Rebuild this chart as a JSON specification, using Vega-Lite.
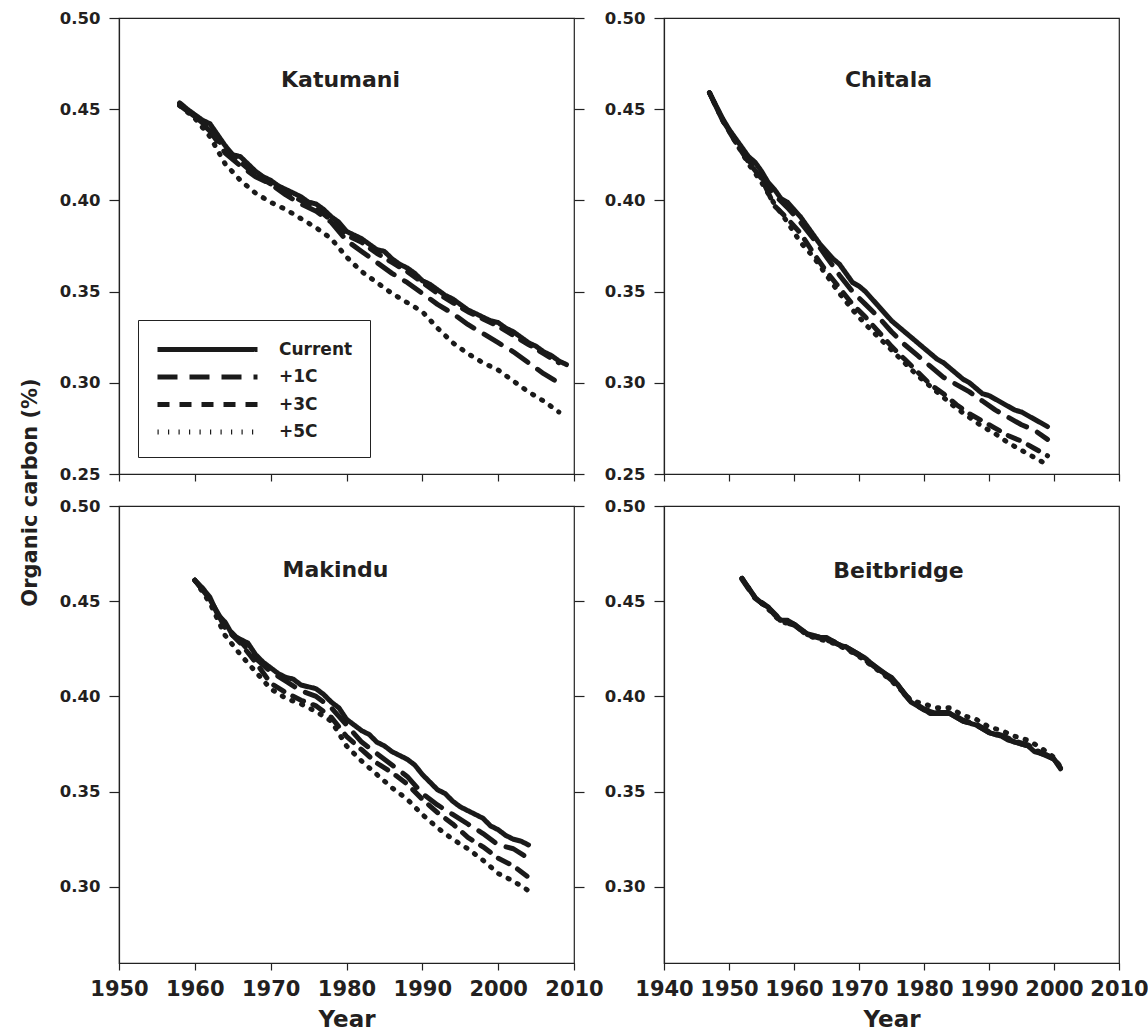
{
  "$schema": "https://vega.github.io/schema/vega-lite/v6.json",
  "padding": {"left": 18, "top": 9, "right": 5, "bottom": 5},
  "columns": 2,
  "spacing": {"row": 32, "column": 90},
  "bounds": "flush",
  "resolve": {"legend": {"strokeDash": "independent"}},
  "datasets": {
    "katumani": [
      {"scenario":"Current","year":1958,"oc":0.4535},{"scenario":"Current","year":1959,"oc":0.450},{"scenario":"Current","year":1960,"oc":0.447},{"scenario":"Current","year":1961,"oc":0.444},{"scenario":"Current","year":1962,"oc":0.442},{"scenario":"Current","year":1963,"oc":0.436},{"scenario":"Current","year":1964,"oc":0.430},{"scenario":"Current","year":1965,"oc":0.425},{"scenario":"Current","year":1966,"oc":0.424},{"scenario":"Current","year":1967,"oc":0.420},{"scenario":"Current","year":1968,"oc":0.416},{"scenario":"Current","year":1969,"oc":0.413},{"scenario":"Current","year":1970,"oc":0.411},{"scenario":"Current","year":1971,"oc":0.408},{"scenario":"Current","year":1972,"oc":0.406},{"scenario":"Current","year":1973,"oc":0.404},{"scenario":"Current","year":1974,"oc":0.402},{"scenario":"Current","year":1975,"oc":0.399},{"scenario":"Current","year":1976,"oc":0.398},{"scenario":"Current","year":1977,"oc":0.395},{"scenario":"Current","year":1978,"oc":0.391},{"scenario":"Current","year":1979,"oc":0.388},{"scenario":"Current","year":1980,"oc":0.383},{"scenario":"Current","year":1981,"oc":0.381},{"scenario":"Current","year":1982,"oc":0.379},{"scenario":"Current","year":1983,"oc":0.376},{"scenario":"Current","year":1984,"oc":0.373},{"scenario":"Current","year":1985,"oc":0.372},{"scenario":"Current","year":1986,"oc":0.368},{"scenario":"Current","year":1987,"oc":0.365},{"scenario":"Current","year":1988,"oc":0.363},{"scenario":"Current","year":1989,"oc":0.360},{"scenario":"Current","year":1990,"oc":0.356},{"scenario":"Current","year":1991,"oc":0.354},{"scenario":"Current","year":1992,"oc":0.351},{"scenario":"Current","year":1993,"oc":0.348},{"scenario":"Current","year":1994,"oc":0.346},{"scenario":"Current","year":1995,"oc":0.343},{"scenario":"Current","year":1996,"oc":0.340},{"scenario":"Current","year":1997,"oc":0.338},{"scenario":"Current","year":1998,"oc":0.336},{"scenario":"Current","year":1999,"oc":0.334},{"scenario":"Current","year":2000,"oc":0.333},{"scenario":"Current","year":2001,"oc":0.330},{"scenario":"Current","year":2002,"oc":0.328},{"scenario":"Current","year":2003,"oc":0.325},{"scenario":"Current","year":2004,"oc":0.322},{"scenario":"Current","year":2005,"oc":0.320},{"scenario":"Current","year":2006,"oc":0.317},{"scenario":"Current","year":2007,"oc":0.315},{"scenario":"Current","year":2008,"oc":0.312},{"scenario":"Current","year":2009,"oc":0.310},
      {"scenario":"+1C","year":1958,"oc":0.452},{"scenario":"+1C","year":1960,"oc":0.446},{"scenario":"+1C","year":1962,"oc":0.438},{"scenario":"+1C","year":1964,"oc":0.426},{"scenario":"+1C","year":1966,"oc":0.419},{"scenario":"+1C","year":1968,"oc":0.413},{"scenario":"+1C","year":1970,"oc":0.409},{"scenario":"+1C","year":1972,"oc":0.403},{"scenario":"+1C","year":1974,"oc":0.398},{"scenario":"+1C","year":1976,"oc":0.394},{"scenario":"+1C","year":1978,"oc":0.388},{"scenario":"+1C","year":1980,"oc":0.378},{"scenario":"+1C","year":1982,"oc":0.372},{"scenario":"+1C","year":1984,"oc":0.366},{"scenario":"+1C","year":1986,"oc":0.360},{"scenario":"+1C","year":1988,"oc":0.355},{"scenario":"+1C","year":1990,"oc":0.349},{"scenario":"+1C","year":1992,"oc":0.343},{"scenario":"+1C","year":1994,"oc":0.338},{"scenario":"+1C","year":1996,"oc":0.332},{"scenario":"+1C","year":1998,"oc":0.327},{"scenario":"+1C","year":2000,"oc":0.322},{"scenario":"+1C","year":2002,"oc":0.317},{"scenario":"+1C","year":2004,"oc":0.311},{"scenario":"+1C","year":2006,"oc":0.305},{"scenario":"+1C","year":2008,"oc":0.300},
      {"scenario":"+3C","year":1958,"oc":0.453},{"scenario":"+3C","year":1960,"oc":0.446},{"scenario":"+3C","year":1962,"oc":0.439},{"scenario":"+3C","year":1964,"oc":0.428},{"scenario":"+3C","year":1966,"oc":0.421},{"scenario":"+3C","year":1968,"oc":0.414},{"scenario":"+3C","year":1970,"oc":0.409},{"scenario":"+3C","year":1972,"oc":0.404},{"scenario":"+3C","year":1974,"oc":0.400},{"scenario":"+3C","year":1976,"oc":0.396},{"scenario":"+3C","year":1978,"oc":0.389},{"scenario":"+3C","year":1980,"oc":0.381},{"scenario":"+3C","year":1982,"oc":0.377},{"scenario":"+3C","year":1984,"oc":0.371},{"scenario":"+3C","year":1986,"oc":0.366},{"scenario":"+3C","year":1988,"oc":0.361},{"scenario":"+3C","year":1990,"oc":0.355},{"scenario":"+3C","year":1992,"oc":0.349},{"scenario":"+3C","year":1994,"oc":0.344},{"scenario":"+3C","year":1996,"oc":0.339},{"scenario":"+3C","year":1998,"oc":0.335},{"scenario":"+3C","year":2000,"oc":0.331},{"scenario":"+3C","year":2002,"oc":0.326},{"scenario":"+3C","year":2004,"oc":0.321},{"scenario":"+3C","year":2006,"oc":0.316},{"scenario":"+3C","year":2008,"oc":0.311},
      {"scenario":"+5C","year":1958,"oc":0.452},{"scenario":"+5C","year":1960,"oc":0.445},{"scenario":"+5C","year":1962,"oc":0.435},{"scenario":"+5C","year":1964,"oc":0.420},{"scenario":"+5C","year":1966,"oc":0.411},{"scenario":"+5C","year":1968,"oc":0.404},{"scenario":"+5C","year":1970,"oc":0.399},{"scenario":"+5C","year":1972,"oc":0.395},{"scenario":"+5C","year":1974,"oc":0.390},{"scenario":"+5C","year":1976,"oc":0.385},{"scenario":"+5C","year":1978,"oc":0.379},{"scenario":"+5C","year":1980,"oc":0.369},{"scenario":"+5C","year":1982,"oc":0.361},{"scenario":"+5C","year":1984,"oc":0.355},{"scenario":"+5C","year":1986,"oc":0.349},{"scenario":"+5C","year":1988,"oc":0.344},{"scenario":"+5C","year":1990,"oc":0.339},{"scenario":"+5C","year":1992,"oc":0.330},{"scenario":"+5C","year":1994,"oc":0.322},{"scenario":"+5C","year":1996,"oc":0.316},{"scenario":"+5C","year":1998,"oc":0.311},{"scenario":"+5C","year":2000,"oc":0.307},{"scenario":"+5C","year":2002,"oc":0.301},{"scenario":"+5C","year":2004,"oc":0.295},{"scenario":"+5C","year":2006,"oc":0.290},{"scenario":"+5C","year":2008,"oc":0.284}
    ],
    "chitala": [
      {"scenario":"Current","year":1947,"oc":0.459},{"scenario":"Current","year":1948,"oc":0.452},{"scenario":"Current","year":1949,"oc":0.445},{"scenario":"Current","year":1950,"oc":0.439},{"scenario":"Current","year":1951,"oc":0.434},{"scenario":"Current","year":1952,"oc":0.429},{"scenario":"Current","year":1953,"oc":0.424},{"scenario":"Current","year":1954,"oc":0.421},{"scenario":"Current","year":1955,"oc":0.416},{"scenario":"Current","year":1956,"oc":0.410},{"scenario":"Current","year":1957,"oc":0.406},{"scenario":"Current","year":1958,"oc":0.401},{"scenario":"Current","year":1959,"oc":0.399},{"scenario":"Current","year":1960,"oc":0.395},{"scenario":"Current","year":1961,"oc":0.391},{"scenario":"Current","year":1962,"oc":0.386},{"scenario":"Current","year":1963,"oc":0.381},{"scenario":"Current","year":1964,"oc":0.376},{"scenario":"Current","year":1965,"oc":0.372},{"scenario":"Current","year":1966,"oc":0.368},{"scenario":"Current","year":1967,"oc":0.365},{"scenario":"Current","year":1968,"oc":0.360},{"scenario":"Current","year":1969,"oc":0.355},{"scenario":"Current","year":1970,"oc":0.353},{"scenario":"Current","year":1971,"oc":0.350},{"scenario":"Current","year":1972,"oc":0.346},{"scenario":"Current","year":1973,"oc":0.342},{"scenario":"Current","year":1974,"oc":0.338},{"scenario":"Current","year":1975,"oc":0.334},{"scenario":"Current","year":1976,"oc":0.331},{"scenario":"Current","year":1977,"oc":0.328},{"scenario":"Current","year":1978,"oc":0.325},{"scenario":"Current","year":1979,"oc":0.322},{"scenario":"Current","year":1980,"oc":0.319},{"scenario":"Current","year":1981,"oc":0.316},{"scenario":"Current","year":1982,"oc":0.313},{"scenario":"Current","year":1983,"oc":0.311},{"scenario":"Current","year":1984,"oc":0.308},{"scenario":"Current","year":1985,"oc":0.305},{"scenario":"Current","year":1986,"oc":0.302},{"scenario":"Current","year":1987,"oc":0.300},{"scenario":"Current","year":1988,"oc":0.297},{"scenario":"Current","year":1989,"oc":0.294},{"scenario":"Current","year":1990,"oc":0.293},{"scenario":"Current","year":1991,"oc":0.291},{"scenario":"Current","year":1992,"oc":0.289},{"scenario":"Current","year":1993,"oc":0.287},{"scenario":"Current","year":1994,"oc":0.285},{"scenario":"Current","year":1995,"oc":0.284},{"scenario":"Current","year":1996,"oc":0.282},{"scenario":"Current","year":1997,"oc":0.280},{"scenario":"Current","year":1998,"oc":0.278},{"scenario":"Current","year":1999,"oc":0.276},
      {"scenario":"+1C","year":1947,"oc":0.459},{"scenario":"+1C","year":1949,"oc":0.444},{"scenario":"+1C","year":1951,"oc":0.433},{"scenario":"+1C","year":1953,"oc":0.422},{"scenario":"+1C","year":1955,"oc":0.413},{"scenario":"+1C","year":1957,"oc":0.403},{"scenario":"+1C","year":1959,"oc":0.396},{"scenario":"+1C","year":1961,"oc":0.388},{"scenario":"+1C","year":1963,"oc":0.379},{"scenario":"+1C","year":1965,"oc":0.369},{"scenario":"+1C","year":1967,"oc":0.359},{"scenario":"+1C","year":1969,"oc":0.350},{"scenario":"+1C","year":1971,"oc":0.343},{"scenario":"+1C","year":1973,"oc":0.336},{"scenario":"+1C","year":1975,"oc":0.328},{"scenario":"+1C","year":1977,"oc":0.321},{"scenario":"+1C","year":1979,"oc":0.315},{"scenario":"+1C","year":1981,"oc":0.309},{"scenario":"+1C","year":1983,"oc":0.303},{"scenario":"+1C","year":1985,"oc":0.299},{"scenario":"+1C","year":1987,"oc":0.295},{"scenario":"+1C","year":1989,"oc":0.290},{"scenario":"+1C","year":1991,"oc":0.285},{"scenario":"+1C","year":1993,"oc":0.281},{"scenario":"+1C","year":1995,"oc":0.277},{"scenario":"+1C","year":1997,"oc":0.274},{"scenario":"+1C","year":1999,"oc":0.269},
      {"scenario":"+3C","year":1947,"oc":0.459},{"scenario":"+3C","year":1949,"oc":0.444},{"scenario":"+3C","year":1951,"oc":0.432},{"scenario":"+3C","year":1953,"oc":0.421},{"scenario":"+3C","year":1955,"oc":0.412},{"scenario":"+3C","year":1957,"oc":0.397},{"scenario":"+3C","year":1959,"oc":0.390},{"scenario":"+3C","year":1961,"oc":0.382},{"scenario":"+3C","year":1963,"oc":0.371},{"scenario":"+3C","year":1965,"oc":0.361},{"scenario":"+3C","year":1967,"oc":0.352},{"scenario":"+3C","year":1969,"oc":0.343},{"scenario":"+3C","year":1971,"oc":0.336},{"scenario":"+3C","year":1973,"oc":0.328},{"scenario":"+3C","year":1975,"oc":0.320},{"scenario":"+3C","year":1977,"oc":0.313},{"scenario":"+3C","year":1979,"oc":0.306},{"scenario":"+3C","year":1981,"oc":0.299},{"scenario":"+3C","year":1983,"oc":0.294},{"scenario":"+3C","year":1985,"oc":0.288},{"scenario":"+3C","year":1987,"oc":0.283},{"scenario":"+3C","year":1989,"oc":0.279},{"scenario":"+3C","year":1991,"oc":0.275},{"scenario":"+3C","year":1993,"oc":0.271},{"scenario":"+3C","year":1995,"oc":0.268},{"scenario":"+3C","year":1997,"oc":0.264},{"scenario":"+3C","year":1999,"oc":0.260},
      {"scenario":"+5C","year":1947,"oc":0.459},{"scenario":"+5C","year":1949,"oc":0.444},{"scenario":"+5C","year":1951,"oc":0.432},{"scenario":"+5C","year":1953,"oc":0.420},{"scenario":"+5C","year":1955,"oc":0.410},{"scenario":"+5C","year":1957,"oc":0.398},{"scenario":"+5C","year":1959,"oc":0.388},{"scenario":"+5C","year":1961,"oc":0.377},{"scenario":"+5C","year":1963,"oc":0.369},{"scenario":"+5C","year":1965,"oc":0.359},{"scenario":"+5C","year":1967,"oc":0.349},{"scenario":"+5C","year":1969,"oc":0.340},{"scenario":"+5C","year":1971,"oc":0.332},{"scenario":"+5C","year":1973,"oc":0.325},{"scenario":"+5C","year":1975,"oc":0.318},{"scenario":"+5C","year":1977,"oc":0.311},{"scenario":"+5C","year":1979,"oc":0.304},{"scenario":"+5C","year":1981,"oc":0.298},{"scenario":"+5C","year":1983,"oc":0.292},{"scenario":"+5C","year":1985,"oc":0.286},{"scenario":"+5C","year":1987,"oc":0.281},{"scenario":"+5C","year":1989,"oc":0.276},{"scenario":"+5C","year":1991,"oc":0.272},{"scenario":"+5C","year":1993,"oc":0.267},{"scenario":"+5C","year":1995,"oc":0.263},{"scenario":"+5C","year":1997,"oc":0.259},{"scenario":"+5C","year":1999,"oc":0.255}
    ],
    "makindu": [
      {"scenario":"Current","year":1960,"oc":0.461},{"scenario":"Current","year":1961,"oc":0.457},{"scenario":"Current","year":1962,"oc":0.452},{"scenario":"Current","year":1963,"oc":0.443},{"scenario":"Current","year":1964,"oc":0.439},{"scenario":"Current","year":1965,"oc":0.432},{"scenario":"Current","year":1966,"oc":0.430},{"scenario":"Current","year":1967,"oc":0.428},{"scenario":"Current","year":1968,"oc":0.422},{"scenario":"Current","year":1969,"oc":0.418},{"scenario":"Current","year":1970,"oc":0.415},{"scenario":"Current","year":1971,"oc":0.412},{"scenario":"Current","year":1972,"oc":0.410},{"scenario":"Current","year":1973,"oc":0.409},{"scenario":"Current","year":1974,"oc":0.406},{"scenario":"Current","year":1975,"oc":0.405},{"scenario":"Current","year":1976,"oc":0.404},{"scenario":"Current","year":1977,"oc":0.401},{"scenario":"Current","year":1978,"oc":0.397},{"scenario":"Current","year":1979,"oc":0.394},{"scenario":"Current","year":1980,"oc":0.388},{"scenario":"Current","year":1981,"oc":0.385},{"scenario":"Current","year":1982,"oc":0.382},{"scenario":"Current","year":1983,"oc":0.380},{"scenario":"Current","year":1984,"oc":0.376},{"scenario":"Current","year":1985,"oc":0.374},{"scenario":"Current","year":1986,"oc":0.371},{"scenario":"Current","year":1987,"oc":0.369},{"scenario":"Current","year":1988,"oc":0.367},{"scenario":"Current","year":1989,"oc":0.364},{"scenario":"Current","year":1990,"oc":0.359},{"scenario":"Current","year":1991,"oc":0.355},{"scenario":"Current","year":1992,"oc":0.351},{"scenario":"Current","year":1993,"oc":0.349},{"scenario":"Current","year":1994,"oc":0.345},{"scenario":"Current","year":1995,"oc":0.342},{"scenario":"Current","year":1996,"oc":0.340},{"scenario":"Current","year":1997,"oc":0.338},{"scenario":"Current","year":1998,"oc":0.336},{"scenario":"Current","year":1999,"oc":0.332},{"scenario":"Current","year":2000,"oc":0.330},{"scenario":"Current","year":2001,"oc":0.327},{"scenario":"Current","year":2002,"oc":0.325},{"scenario":"Current","year":2003,"oc":0.324},{"scenario":"Current","year":2004,"oc":0.322},
      {"scenario":"+1C","year":1960,"oc":0.461},{"scenario":"+1C","year":1962,"oc":0.451},{"scenario":"+1C","year":1964,"oc":0.437},{"scenario":"+1C","year":1966,"oc":0.429},{"scenario":"+1C","year":1968,"oc":0.420},{"scenario":"+1C","year":1970,"oc":0.413},{"scenario":"+1C","year":1972,"oc":0.408},{"scenario":"+1C","year":1974,"oc":0.403},{"scenario":"+1C","year":1976,"oc":0.400},{"scenario":"+1C","year":1978,"oc":0.394},{"scenario":"+1C","year":1980,"oc":0.385},{"scenario":"+1C","year":1982,"oc":0.376},{"scenario":"+1C","year":1984,"oc":0.370},{"scenario":"+1C","year":1986,"oc":0.364},{"scenario":"+1C","year":1988,"oc":0.358},{"scenario":"+1C","year":1990,"oc":0.349},{"scenario":"+1C","year":1992,"oc":0.343},{"scenario":"+1C","year":1994,"oc":0.338},{"scenario":"+1C","year":1996,"oc":0.333},{"scenario":"+1C","year":1998,"oc":0.328},{"scenario":"+1C","year":2000,"oc":0.322},{"scenario":"+1C","year":2002,"oc":0.320},{"scenario":"+1C","year":2004,"oc":0.315},
      {"scenario":"+3C","year":1960,"oc":0.461},{"scenario":"+3C","year":1962,"oc":0.451},{"scenario":"+3C","year":1964,"oc":0.436},{"scenario":"+3C","year":1966,"oc":0.428},{"scenario":"+3C","year":1968,"oc":0.418},{"scenario":"+3C","year":1970,"oc":0.407},{"scenario":"+3C","year":1972,"oc":0.402},{"scenario":"+3C","year":1974,"oc":0.398},{"scenario":"+3C","year":1976,"oc":0.395},{"scenario":"+3C","year":1978,"oc":0.389},{"scenario":"+3C","year":1980,"oc":0.379},{"scenario":"+3C","year":1982,"oc":0.372},{"scenario":"+3C","year":1984,"oc":0.365},{"scenario":"+3C","year":1986,"oc":0.360},{"scenario":"+3C","year":1988,"oc":0.354},{"scenario":"+3C","year":1990,"oc":0.346},{"scenario":"+3C","year":1992,"oc":0.339},{"scenario":"+3C","year":1994,"oc":0.333},{"scenario":"+3C","year":1996,"oc":0.326},{"scenario":"+3C","year":1998,"oc":0.321},{"scenario":"+3C","year":2000,"oc":0.315},{"scenario":"+3C","year":2002,"oc":0.311},{"scenario":"+3C","year":2004,"oc":0.305},
      {"scenario":"+5C","year":1960,"oc":0.461},{"scenario":"+5C","year":1962,"oc":0.449},{"scenario":"+5C","year":1964,"oc":0.432},{"scenario":"+5C","year":1966,"oc":0.422},{"scenario":"+5C","year":1968,"oc":0.413},{"scenario":"+5C","year":1970,"oc":0.404},{"scenario":"+5C","year":1972,"oc":0.399},{"scenario":"+5C","year":1974,"oc":0.396},{"scenario":"+5C","year":1976,"oc":0.392},{"scenario":"+5C","year":1978,"oc":0.387},{"scenario":"+5C","year":1980,"oc":0.374},{"scenario":"+5C","year":1982,"oc":0.366},{"scenario":"+5C","year":1984,"oc":0.359},{"scenario":"+5C","year":1986,"oc":0.352},{"scenario":"+5C","year":1988,"oc":0.346},{"scenario":"+5C","year":1990,"oc":0.338},{"scenario":"+5C","year":1992,"oc":0.331},{"scenario":"+5C","year":1994,"oc":0.325},{"scenario":"+5C","year":1996,"oc":0.320},{"scenario":"+5C","year":1998,"oc":0.314},{"scenario":"+5C","year":2000,"oc":0.307},{"scenario":"+5C","year":2002,"oc":0.303},{"scenario":"+5C","year":2004,"oc":0.298}
    ],
    "beitbridge": [
      {"scenario":"Current","year":1952,"oc":0.462},{"scenario":"Current","year":1953,"oc":0.457},{"scenario":"Current","year":1954,"oc":0.452},{"scenario":"Current","year":1955,"oc":0.449},{"scenario":"Current","year":1956,"oc":0.447},{"scenario":"Current","year":1957,"oc":0.443},{"scenario":"Current","year":1958,"oc":0.440},{"scenario":"Current","year":1959,"oc":0.440},{"scenario":"Current","year":1960,"oc":0.438},{"scenario":"Current","year":1961,"oc":0.435},{"scenario":"Current","year":1962,"oc":0.433},{"scenario":"Current","year":1963,"oc":0.432},{"scenario":"Current","year":1964,"oc":0.431},{"scenario":"Current","year":1965,"oc":0.431},{"scenario":"Current","year":1966,"oc":0.429},{"scenario":"Current","year":1967,"oc":0.427},{"scenario":"Current","year":1968,"oc":0.426},{"scenario":"Current","year":1969,"oc":0.424},{"scenario":"Current","year":1970,"oc":0.422},{"scenario":"Current","year":1971,"oc":0.420},{"scenario":"Current","year":1972,"oc":0.417},{"scenario":"Current","year":1973,"oc":0.414},{"scenario":"Current","year":1974,"oc":0.412},{"scenario":"Current","year":1975,"oc":0.410},{"scenario":"Current","year":1976,"oc":0.406},{"scenario":"Current","year":1977,"oc":0.401},{"scenario":"Current","year":1978,"oc":0.397},{"scenario":"Current","year":1979,"oc":0.395},{"scenario":"Current","year":1980,"oc":0.393},{"scenario":"Current","year":1981,"oc":0.391},{"scenario":"Current","year":1982,"oc":0.391},{"scenario":"Current","year":1983,"oc":0.391},{"scenario":"Current","year":1984,"oc":0.391},{"scenario":"Current","year":1985,"oc":0.389},{"scenario":"Current","year":1986,"oc":0.387},{"scenario":"Current","year":1987,"oc":0.386},{"scenario":"Current","year":1988,"oc":0.385},{"scenario":"Current","year":1989,"oc":0.383},{"scenario":"Current","year":1990,"oc":0.381},{"scenario":"Current","year":1991,"oc":0.380},{"scenario":"Current","year":1992,"oc":0.379},{"scenario":"Current","year":1993,"oc":0.377},{"scenario":"Current","year":1994,"oc":0.376},{"scenario":"Current","year":1995,"oc":0.375},{"scenario":"Current","year":1996,"oc":0.374},{"scenario":"Current","year":1997,"oc":0.371},{"scenario":"Current","year":1998,"oc":0.370},{"scenario":"Current","year":1999,"oc":0.369},{"scenario":"Current","year":2000,"oc":0.367},{"scenario":"Current","year":2001,"oc":0.362},
      {"scenario":"+1C","year":1952,"oc":0.462},{"scenario":"+1C","year":1954,"oc":0.452},{"scenario":"+1C","year":1956,"oc":0.447},{"scenario":"+1C","year":1958,"oc":0.440},{"scenario":"+1C","year":1960,"oc":0.438},{"scenario":"+1C","year":1962,"oc":0.433},{"scenario":"+1C","year":1964,"oc":0.431},{"scenario":"+1C","year":1966,"oc":0.429},{"scenario":"+1C","year":1968,"oc":0.426},{"scenario":"+1C","year":1970,"oc":0.422},{"scenario":"+1C","year":1972,"oc":0.417},{"scenario":"+1C","year":1974,"oc":0.412},{"scenario":"+1C","year":1976,"oc":0.406},{"scenario":"+1C","year":1978,"oc":0.397},{"scenario":"+1C","year":1980,"oc":0.393},{"scenario":"+1C","year":1982,"oc":0.391},{"scenario":"+1C","year":1984,"oc":0.391},{"scenario":"+1C","year":1986,"oc":0.387},{"scenario":"+1C","year":1988,"oc":0.385},{"scenario":"+1C","year":1990,"oc":0.381},{"scenario":"+1C","year":1992,"oc":0.379},{"scenario":"+1C","year":1994,"oc":0.376},{"scenario":"+1C","year":1996,"oc":0.374},{"scenario":"+1C","year":1998,"oc":0.370},{"scenario":"+1C","year":2000,"oc":0.367},{"scenario":"+1C","year":2001,"oc":0.362},
      {"scenario":"+3C","year":1952,"oc":0.4615},{"scenario":"+3C","year":1954,"oc":0.4515},{"scenario":"+3C","year":1956,"oc":0.4465},{"scenario":"+3C","year":1958,"oc":0.4395},{"scenario":"+3C","year":1960,"oc":0.4375},{"scenario":"+3C","year":1962,"oc":0.4325},{"scenario":"+3C","year":1964,"oc":0.4305},{"scenario":"+3C","year":1966,"oc":0.4285},{"scenario":"+3C","year":1968,"oc":0.4255},{"scenario":"+3C","year":1970,"oc":0.4215},{"scenario":"+3C","year":1972,"oc":0.4165},{"scenario":"+3C","year":1974,"oc":0.4115},{"scenario":"+3C","year":1976,"oc":0.4055},{"scenario":"+3C","year":1978,"oc":0.3975},{"scenario":"+3C","year":1980,"oc":0.3935},{"scenario":"+3C","year":1982,"oc":0.3915},{"scenario":"+3C","year":1984,"oc":0.3915},{"scenario":"+3C","year":1986,"oc":0.3875},{"scenario":"+3C","year":1988,"oc":0.3855},{"scenario":"+3C","year":1990,"oc":0.3815},{"scenario":"+3C","year":1992,"oc":0.3795},{"scenario":"+3C","year":1994,"oc":0.3765},{"scenario":"+3C","year":1996,"oc":0.3745},{"scenario":"+3C","year":1998,"oc":0.3705},{"scenario":"+3C","year":2000,"oc":0.3675},{"scenario":"+3C","year":2001,"oc":0.3625},
      {"scenario":"+5C","year":1952,"oc":0.462},{"scenario":"+5C","year":1954,"oc":0.452},{"scenario":"+5C","year":1956,"oc":0.446},{"scenario":"+5C","year":1958,"oc":0.439},{"scenario":"+5C","year":1960,"oc":0.438},{"scenario":"+5C","year":1962,"oc":0.432},{"scenario":"+5C","year":1964,"oc":0.430},{"scenario":"+5C","year":1966,"oc":0.428},{"scenario":"+5C","year":1968,"oc":0.425},{"scenario":"+5C","year":1970,"oc":0.421},{"scenario":"+5C","year":1972,"oc":0.416},{"scenario":"+5C","year":1974,"oc":0.411},{"scenario":"+5C","year":1976,"oc":0.405},{"scenario":"+5C","year":1978,"oc":0.398},{"scenario":"+5C","year":1980,"oc":0.396},{"scenario":"+5C","year":1982,"oc":0.394},{"scenario":"+5C","year":1984,"oc":0.394},{"scenario":"+5C","year":1986,"oc":0.390},{"scenario":"+5C","year":1988,"oc":0.388},{"scenario":"+5C","year":1990,"oc":0.384},{"scenario":"+5C","year":1992,"oc":0.382},{"scenario":"+5C","year":1994,"oc":0.379},{"scenario":"+5C","year":1996,"oc":0.377},{"scenario":"+5C","year":1998,"oc":0.373},{"scenario":"+5C","year":2000,"oc":0.368},{"scenario":"+5C","year":2001,"oc":0.363}
    ]
  },
  "concat": [
    {
      "width": 455, "height": 456,
      "data": {"name": "katumani"},
      "title": {"text": "Katumani", "offset": -82, "dx": -6},
      "layer": [
        {
          "mark": {"type": "line"},
          "encoding": {
            "x": {"field": "year", "type": "quantitative", "scale": {"domain": [1950, 2010], "nice": false, "zero": false}, "axis": {"values": [1950,1960,1970,1980,1990,2000,2010], "labels": false, "title": null}},
            "y": {"field": "oc", "type": "quantitative", "scale": {"domain": [0.25, 0.5], "nice": false, "zero": false}, "axis": {"orient": "left", "values": [0.25,0.3,0.35,0.4,0.45,0.5], "format": ".2f", "title": "Organic carbon (%)", "titleFontSize": 21, "titleX": -83, "titleY": 474, "titleAngle": -90, "titleAlign": "center", "titleBaseline": "alphabetic"}},
            "strokeDash": {"field": "scenario", "type": "nominal", "scale": {"domain": ["Current","+1C","+3C","+5C"], "range": [[1,0],[20,12],[12,10],[1.2,9.3]]},
              "legend": {"orient": "none", "legendX": 19, "legendY": 302, "title": null, "strokeColor": "#222", "padding": 17, "symbolType": "M-1,0H9", "symbolSize": 400, "symbolStrokeWidth": 5, "symbolStrokeColor": "#1a1a1a", "labelFont": "DejaVu Sans", "labelFontWeight": "bold", "labelFontSize": 17, "labelColor": "#231f20", "labelOffset": 99, "rowPadding": 6.5,
                "encode": {"symbols": {"strokeCap": {"value": "round"}}}}}
          }
        },
        {
          "mark": {"type": "point", "opacity": 0},
          "encoding": {
            "y": {"field": "oc", "type": "quantitative", "scale": {"domain": [0.25, 0.5], "nice": false, "zero": false}, "axis": {"orient": "right", "values": [0.25,0.3,0.35,0.4,0.45,0.5], "labels": false, "domain": false, "title": null}}
          }
        }
      ],
      "resolve": {"axis": {"y": "independent"}}
    },
    {
      "width": 455, "height": 456,
      "data": {"name": "chitala"},
      "title": {"text": "Chitala", "offset": -82, "dx": -3},
      "mark": {"type": "line"},
      "encoding": {
        "x": {"field": "year", "type": "quantitative", "scale": {"domain": [1940, 2010], "nice": false, "zero": false}, "axis": {"values": [1940,1950,1960,1970,1980,1990,2000,2010], "labels": false, "title": null}},
        "y": {"field": "oc", "type": "quantitative", "scale": {"domain": [0.25, 0.5], "nice": false, "zero": false}, "axis": {"values": [0.25,0.3,0.35,0.4,0.45,0.5], "format": ".2f", "title": null}},
        "strokeDash": {"field": "scenario", "type": "nominal", "scale": {"domain": ["Current","+1C","+3C","+5C"], "range": [[1,0],[20,12],[12,10],[1.2,9.3]]}, "legend": null}
      }
    },
    {
      "width": 455, "height": 457,
      "data": {"name": "makindu"},
      "title": {"text": "Makindu", "offset": -84, "dx": -11},
      "layer": [
        {
          "mark": {"type": "line"},
          "encoding": {
            "x": {"field": "year", "type": "quantitative", "scale": {"domain": [1950, 2010], "nice": false, "zero": false}, "axis": {"values": [1950,1960,1970,1980,1990,2000,2010], "format": "d", "title": "Year"}},
            "y": {"field": "oc", "type": "quantitative", "scale": {"domain": [0.26, 0.5], "nice": false, "zero": false}, "axis": {"orient": "left", "values": [0.3,0.35,0.4,0.45,0.5], "format": ".2f", "title": null}},
            "strokeDash": {"field": "scenario", "type": "nominal", "scale": {"domain": ["Current","+1C","+3C","+5C"], "range": [[1,0],[20,12],[12,10],[1.2,9.3]]}, "legend": null}
          }
        },
        {
          "mark": {"type": "point", "opacity": 0},
          "encoding": {
            "y": {"field": "oc", "type": "quantitative", "scale": {"domain": [0.26, 0.5], "nice": false, "zero": false}, "axis": {"orient": "right", "values": [0.3,0.35,0.4,0.45,0.5], "labels": false, "domain": false, "title": null}}
          }
        }
      ],
      "resolve": {"axis": {"y": "independent"}}
    },
    {
      "width": 455, "height": 457,
      "data": {"name": "beitbridge"},
      "title": {"text": "Beitbridge", "offset": -85, "dx": 7},
      "mark": {"type": "line"},
      "encoding": {
        "x": {"field": "year", "type": "quantitative", "scale": {"domain": [1940, 2010], "nice": false, "zero": false}, "axis": {"values": [1940,1950,1960,1970,1980,1990,2000,2010], "format": "d", "title": "Year"}},
        "y": {"field": "oc", "type": "quantitative", "scale": {"domain": [0.26, 0.5], "nice": false, "zero": false}, "axis": {"values": [0.3,0.35,0.4,0.45,0.5], "format": ".2f", "title": null}},
        "strokeDash": {"field": "scenario", "type": "nominal", "scale": {"domain": ["Current","+1C","+3C","+5C"], "range": [[1,0],[20,12],[12,10],[1.2,9.3]]}, "legend": null}
      }
    }
  ],
  "config": {
    "font": "DejaVu Sans",
    "background": "white",
    "view": {"stroke": "#222", "strokeWidth": 1.2},
    "axis": {"domainColor": "#222", "domainWidth": 1.2, "tickColor": "#222", "tickWidth": 1.2, "grid": false, "labelFont": "DejaVu Sans", "labelFontWeight": "bold", "labelColor": "#231f20", "titleFont": "DejaVu Sans", "titleFontWeight": "bold", "titleColor": "#231f20", "labelFlush": false, "labelOverlap": false},
    "axisY": {"tickSize": 10, "labelFontSize": 16.5, "labelPadding": 9},
    "axisX": {"tickSize": 7, "labelFontSize": 21, "labelPadding": 8, "titleFontSize": 23, "titlePadding": 9},
    "line": {"strokeWidth": 5, "strokeCap": "round", "strokeJoin": "round", "color": "#1a1a1a"},
    "title": {"font": "DejaVu Sans", "fontWeight": "bold", "fontSize": 22, "color": "#231f20", "anchor": "middle", "frame": "group", "baseline": "alphabetic"}
  }
}
